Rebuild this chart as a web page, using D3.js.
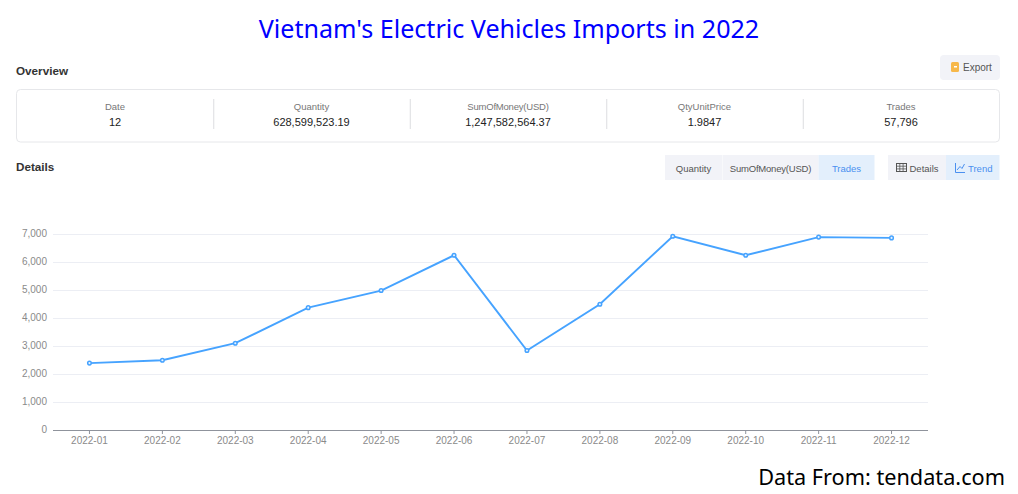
<!DOCTYPE html>
<html>
<head>
<meta charset="utf-8">
<script src="https://cdn.jsdelivr.net/npm/d3@7"></script>
<style>
    html, body { margin: 0; padding: 0; background: #fff; overflow: hidden; }
    svg { display: block; }
    text { font-family: "Liberation Sans", sans-serif; }
</style>
</head>
<body>
<div id="chart"></div>
<script>
// Chart values
const months = ["2022-01", "2022-02", "2022-03", "2022-04", "2022-05", "2022-06",
                "2022-07", "2022-08", "2022-09", "2022-10", "2022-11", "2022-12"];
const trades = [2390, 2490, 3100, 4370, 4980, 6240, 2840, 4490, 6920, 6240, 6890, 6860];
const yTicks = [0, 1000, 2000, 3000, 4000, 5000, 6000, 7000];

// Overview table
const overviewLabels = ["Date", "Quantity", "SumOfMoney(USD)", "QtyUnitPrice", "Trades"];
const overviewValues = ["12", "628,599,523.19", "1,247,582,564.37", "1.9847", "57,796"];

const width = 1018, height = 494;

const svg = d3.select("#chart")
    .append("svg")
    .attr("width", width)
    .attr("height", height);

// Title and source
svg.append("text")
    .attr("x", 509).attr("y", 38)
    .attr("text-anchor", "middle")
    .attr("fill", "#0000ff")
    .style("font-family", "'Noto Sans'")
    .style("font-size", "25.1px")
    .text("Vietnam's Electric Vehicles Imports in 2022");

svg.append("text")
    .attr("x", 1005).attr("y", 485)
    .attr("text-anchor", "end")
    .attr("fill", "#000")
    .style("font-family", "'Noto Sans'")
    .style("font-size", "21.7px")
    .text("Data From: tendata.com");

// Section headings
svg.append("text").attr("x", 16).attr("y", 75)
    .attr("fill", "#333").style("font-size", "11.7px").style("font-weight", 700)
    .text("Overview");
svg.append("text").attr("x", 16).attr("y", 171)
    .attr("fill", "#333").style("font-size", "11.7px").style("font-weight", 700)
    .text("Details");

// Export button
svg.append("rect")
    .attr("x", 940).attr("y", 55).attr("width", 60).attr("height", 25)
    .attr("rx", 4).attr("fill", "#f2f3f8");
svg.append("rect")
    .attr("x", 951).attr("y", 62).attr("width", 8).attr("height", 10)
    .attr("rx", 1.5).attr("fill", "#f7b84a");
svg.append("rect")
    .attr("x", 954).attr("y", 66).attr("width", 3).attr("height", 1.5)
    .attr("fill", "#fff");
svg.append("text").attr("x", 963).attr("y", 71)
    .attr("fill", "#555").style("font-size", "10px").text("Export");

// Overview box
svg.append("rect")
    .attr("x", 16.5).attr("y", 89.5).attr("width", 983).attr("height", 52.5)
    .attr("rx", 4).attr("fill", "#fff").attr("stroke", "#e6e7ea");

const cellX = d3.scalePoint()
    .domain(overviewLabels)
    .range([115, 901]);

svg.selectAll(".overview-label")
    .data(overviewLabels)
    .enter()
    .append("text")
    .attr("class", "overview-label")
    .attr("x", d => cellX(d))
    .attr("y", 110)
    .attr("text-anchor", "middle")
    .attr("fill", "#777")
    .style("font-size", "9.5px")
    .style("letter-spacing", d => d.length > 12 ? "-0.2px" : null)
    .text(d => d);

svg.selectAll(".overview-value")
    .data(overviewValues)
    .enter()
    .append("text")
    .attr("class", "overview-value")
    .attr("x", (d, i) => cellX(overviewLabels[i]))
    .attr("y", 126)
    .attr("text-anchor", "middle")
    .attr("fill", "#222")
    .style("font-size", "11px")
    .text(d => d);

// Dividers between overview cells
svg.selectAll(".overview-divider")
    .data(overviewLabels.slice(1))
    .enter()
    .append("line")
    .attr("x1", d => cellX(d) - cellX.step() / 2 + 0.5)
    .attr("x2", d => cellX(d) - cellX.step() / 2 + 0.5)
    .attr("y1", 99).attr("y2", 129)
    .attr("stroke", "#dcdde0");

// Toggle buttons
function button(x, w, label, active, textX) {
    svg.append("rect")
        .attr("x", x).attr("y", 155).attr("width", w).attr("height", 25)
        .attr("fill", active ? "#e3effc" : "#f2f3f8");
    svg.append("text")
        .attr("x", textX === undefined ? x + w / 2 : textX)
        .attr("y", 172)
        .attr("text-anchor", textX === undefined ? "middle" : "start")
        .attr("fill", active ? "#4a90f0" : "#555")
        .style("font-size", "9.5px")
        .style("letter-spacing", label.length > 12 ? "-0.2px" : null)
        .text(label);
}

button(665, 57, "Quantity", false);
button(722.5, 96, "SumOfMoney(USD)", false);
button(818.5, 56, "Trades", true);
button(888, 58, "Details", false, 909.5);
button(946, 53.5, "Trend", true, 968);

// Table icon on the Details button
svg.append("rect")
    .attr("x", 896.5).attr("y", 163.5).attr("width", 10).attr("height", 8)
    .attr("fill", "none").attr("stroke", "#555");
svg.append("path")
    .attr("d", "M896.5 166.2H906.5M896.5 168.9H906.5M899.8 163.5V171.5M903.1 163.5V171.5")
    .attr("stroke", "#555").attr("stroke-width", 0.8);

// Chart icon on the Trend button
svg.append("path")
    .attr("d", "M955.5 163V172.5H965M957 170L960 166.5L962 168.5L964.5 164")
    .attr("fill", "none").attr("stroke", "#4a90f0");

// Scales
const x = d3.scaleBand()
    .domain(months)
    .range([53, 928]);

const y = d3.scaleLinear()
    .domain([0, 7000])
    .range([430, 234]);

// Horizontal grid lines
svg.selectAll(".grid")
    .data(yTicks.filter(d => d > 0))
    .enter()
    .append("line")
    .attr("class", "grid")
    .attr("x1", 53).attr("x2", 928)
    .attr("y1", d => y(d) + 0.5).attr("y2", d => y(d) + 0.5)
    .attr("stroke", "#eceef4");

// Y axis labels
const yAxis = svg.append("g")
    .attr("transform", "translate(53,-1)")
    .call(d3.axisLeft(y).tickValues(yTicks).tickFormat(d3.format(",")).tickSize(0).tickPadding(6));
yAxis.select(".domain").remove();
yAxis.selectAll("text")
    .attr("fill", "#8a8a8a")
    .style("font-family", "'Liberation Sans', sans-serif")
    .style("font-size", "10px");

// X axis
const xAxis = svg.append("g")
    .attr("transform", "translate(0,430)")
    .call(d3.axisBottom(x).tickSize(4).tickPadding(3));
xAxis.select(".domain").attr("stroke", "#8f939c").attr("d", "M53,0.5H928");
xAxis.selectAll(".tick line").attr("stroke", "#8f939c");
xAxis.selectAll("text")
    .attr("fill", "#8a8a8a")
    .style("font-family", "'Liberation Sans', sans-serif")
    .style("font-size", "10px");

// The line and its points
const line = d3.line()
    .x((d, i) => x(months[i]) + x.bandwidth() / 2)
    .y(d => y(d));

svg.append("path")
    .datum(trades)
    .attr("fill", "none")
    .attr("stroke", "#46a3ff")
    .attr("stroke-width", 1.9)
    .attr("d", line);

svg.selectAll(".point")
    .data(trades)
    .enter()
    .append("circle")
    .attr("class", "point")
    .attr("cx", (d, i) => x(months[i]) + x.bandwidth() / 2)
    .attr("cy", d => y(d))
    .attr("r", 1.8)
    .attr("fill", "#e8f3ff")
    .attr("stroke", "#46a3ff")
    .attr("stroke-width", 1.5);
</script>
</body>
</html>
